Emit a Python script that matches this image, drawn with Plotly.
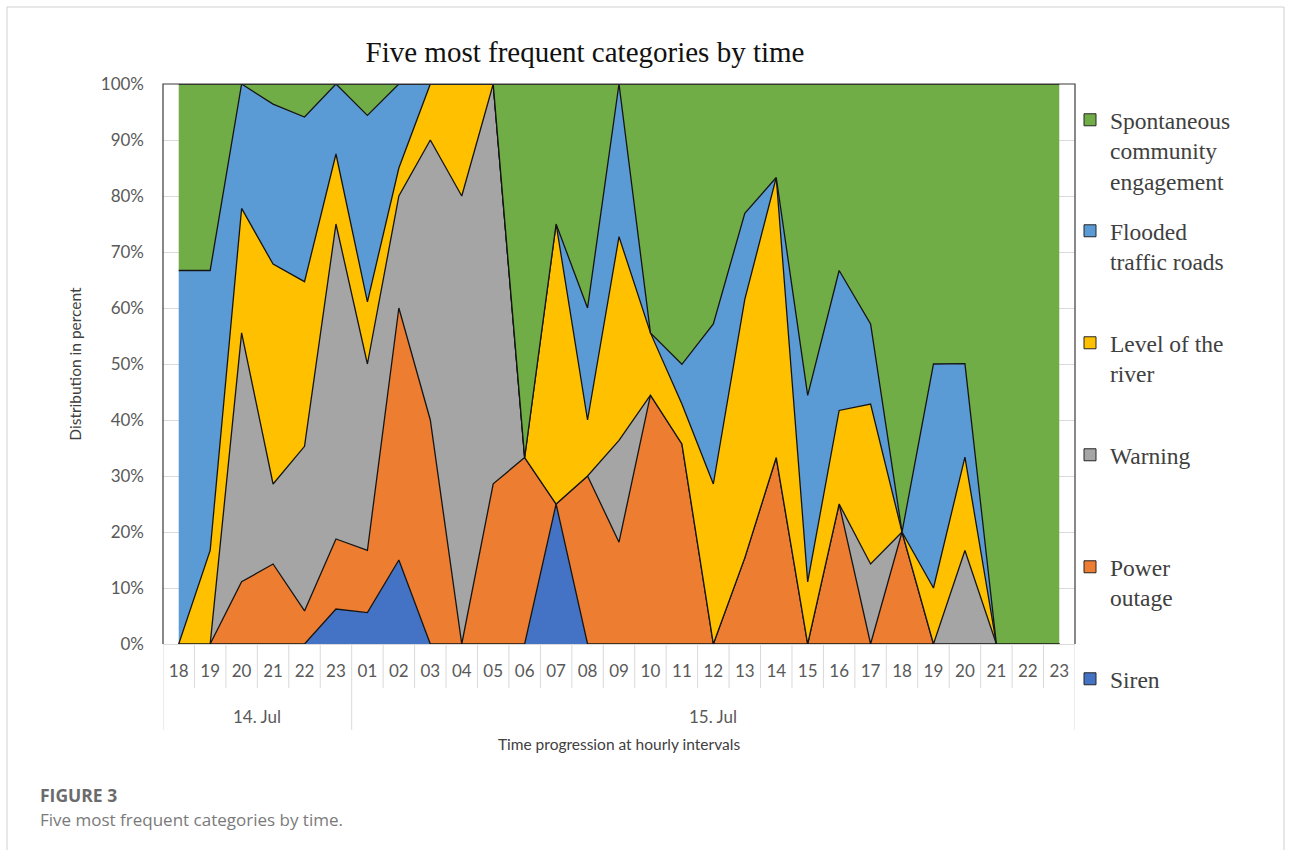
import plotly.graph_objects as go

# Hourly time axis: day and hour
days = ["14. Jul"] * 6 + ["15. Jul"] * 23
hours = ["18", "19", "20", "21", "22", "23",
         "01", "02", "03", "04", "05", "06", "07", "08", "09", "10", "11", "12",
         "13", "14", "15", "16", "17", "18", "19", "20", "21", "22", "23"]

# Share of each category per hour (percent)
siren = [0, 0, 0, 0, 0, 6.25, 5.6, 15, 0, 0, 0, 0, 25, 0, 0, 0, 0, 0,
         0, 0, 0, 0, 0, 0, 0, 0, 0, 0, 0]
power_outage = [0, 0, 11.1, 14.3, 5.9, 12.5, 11.1, 45, 40, 0, 28.6, 33.3, 0, 30, 18.2, 44.4, 35.7, 0,
                15.4, 33.3, 0, 25, 0, 20, 0, 0, 0, 0, 0]
warning = [0, 0, 44.4, 14.3, 29.4, 56.25, 33.3, 20, 50, 80, 71.4, 0, 0, 0, 18.2, 0, 0, 0,
           0, 0, 0, 0, 14.3, 0, 0, 16.7, 0, 0, 0]
level_of_river = [0, 16.7, 22.2, 39.3, 29.4, 12.5, 11.1, 5, 10, 20, 0, 0, 50, 10, 36.4, 11.1, 7.1, 28.6,
                  46.2, 50, 11.1, 16.7, 28.6, 0, 10, 16.7, 0, 0, 0]
flooded_roads = [66.7, 50, 22.2, 28.6, 29.4, 12.5, 33.3, 15, 0, 0, 0, 0, 0, 20, 27.3, 0, 7.1, 28.6,
                 15.4, 0, 33.3, 25, 14.3, 0, 40, 16.7, 0, 0, 0]
community = [33.3, 33.3, 0, 3.6, 5.9, 0, 5.6, 0, 0, 0, 0, 66.7, 25, 40, 0, 44.4, 50, 42.9,
             23.1, 16.7, 55.6, 33.3, 42.9, 80, 50, 50, 100, 100, 100]

series = [
    ("Siren", siren, "#4472C4"),
    ("Power<br>outage", power_outage, "#ED7D31"),
    ("Warning", warning, "#A5A5A5"),
    ("Level of the<br>river", level_of_river, "#FFC000"),
    ("Flooded<br>traffic roads", flooded_roads, "#5B9BD5"),
    ("Spontaneous<br>community<br>engagement", community, "#70AD47"),
]

# unique category key per hour slot
slots = ["%s %s" % (d, h) for d, h in zip(days, hours)]

# Pixel layout of the figure
W, H = 1291, 850
PL, PR, PT, PB = 163, 1075, 84, 644


def px(x):
    return (x - PL) / (PR - PL)


def py(y):
    return (PB - y) / (PB - PT)


fig = go.Figure()

legend_tops = [657, 545, 433, 321, 209, 98]
legend_names = ["legend"] + ["legend%d" % k for k in range(2, 7)]

for k, (name, vals, color) in enumerate(series):
    fig.add_trace(go.Scatter(
        x=slots, y=vals, name=name.replace("<br>", " "),
        mode="lines", stackgroup="one", groupnorm="percent",
        line=dict(color="#141414", width=1.3), fillcolor=color,
        showlegend=False,
    ))
    # square legend key
    fig.add_trace(go.Scatter(
        x=[None], y=[None], name=name, mode="markers",
        marker=dict(symbol="square", size=12, color=color,
                    line=dict(color="#262626", width=1)),
        legend=legend_names[k], showlegend=True,
    ))

layout_legends = {}
for k, ln in enumerate(legend_names):
    layout_legends[ln] = dict(
        x=px(1070), y=py(legend_tops[k]), xanchor="left", yanchor="top",
        xref="paper", yref="paper", valign="top",
        font=dict(family="Liberation Serif", size=23.5, color="#404040"),
        bgcolor="rgba(0,0,0,0)", itemwidth=30,
    )

fig.update_layout(
    width=W, height=H,
    margin=dict(l=PL, r=W - PR, t=PT, b=H - PB),
    paper_bgcolor="white", plot_bgcolor="white",
    title=dict(text="Five most frequent categories by time",
               x=585 / W, y=1 - 52 / H, xanchor="center", yanchor="middle",
               font=dict(family="Liberation Serif", size=29, color="#111111")),
    **layout_legends,
)

fig.update_yaxes(
    range=[0, 100], tickvals=list(range(0, 101, 10)),
    ticktext=["%d%%" % v for v in range(0, 101, 10)],
    tickfont=dict(family="Lato", size=17, color="#595959"),
    showgrid=True, gridcolor="#D9D9D9", gridwidth=1,
    zeroline=False, showline=False, ticks="", ticklabelstandoff=18,
    title=dict(text="Distribution in percent", standoff=15,
               font=dict(family="Lato", size=15.5, color="#404040")),
)

fig.update_xaxes(
    type="category", categoryorder="array", categoryarray=slots,
    range=[-0.5, len(slots) - 0.5],
    tickvals=slots, ticktext=hours,
    tickfont=dict(family="Lato", size=17, color="#595959"),
    showgrid=False, showline=True, linecolor="#D9D9D9", linewidth=1,
    ticks="", ticklabelstandoff=12,
    title=dict(text="Time progression at hourly intervals", standoff=58,
               font=dict(family="Lato", size=15.5, color="#404040")),
)

# Separators between hour slots and between days
for i in range(1, len(slots)):
    is_day_break = days[i] != days[i - 1]
    fig.add_shape(type="line", xref="x", yref="paper",
                  x0=i - 0.5, x1=i - 0.5, y0=0, y1=py(730 if is_day_break else 688),
                  line=dict(color="#D9D9D9", width=1))
for edge in (-0.5, len(slots) - 0.5):
    fig.add_shape(type="line", xref="x", yref="paper",
                  x0=edge, x1=edge, y0=0, y1=py(730),
                  line=dict(color="#D9D9D9", width=1))

# Day labels centred under their hours
for d in dict.fromkeys(days):
    idx = [i for i, v in enumerate(days) if v == d]
    fig.add_annotation(text=d, xref="x", yref="paper",
                       x=(idx[0] + idx[-1]) / 2, y=py(716),
                       xanchor="center", yanchor="middle", showarrow=False,
                       font=dict(family="Lato", size=17, color="#595959"))

# Plot frame (left, top, right)
fig.add_shape(type="path", xref="paper", yref="paper",
              path="M 0 0 L 0 1 L 1 1 L 1 0",
              line=dict(color="#3a3a3a", width=1.2), layer="above")

# Page frame
fig.add_shape(type="path", xref="paper", yref="paper",
              path="M %f %f L %f %f L %f %f L %f %f" % (
                  px(7), py(900), px(7), py(7), px(1284), py(7), px(1284), py(900)),
              line=dict(color="#D0D0D0", width=1), layer="below")

# Caption
fig.add_annotation(text="<b>FIGURE 3</b>", xref="paper", yref="paper",
                   x=px(38), y=py(795), xanchor="left", yanchor="middle",
                   showarrow=False, font=dict(family="Open Sans", size=17.5, color="#6b6b6b"))
fig.add_annotation(text="Five most frequent categories by time.", xref="paper", yref="paper",
                   x=px(38), y=py(819), xanchor="left", yanchor="middle",
                   showarrow=False, font=dict(family="Open Sans", size=17, color="#7a7a7a"))

fig.write_html("out.html")
